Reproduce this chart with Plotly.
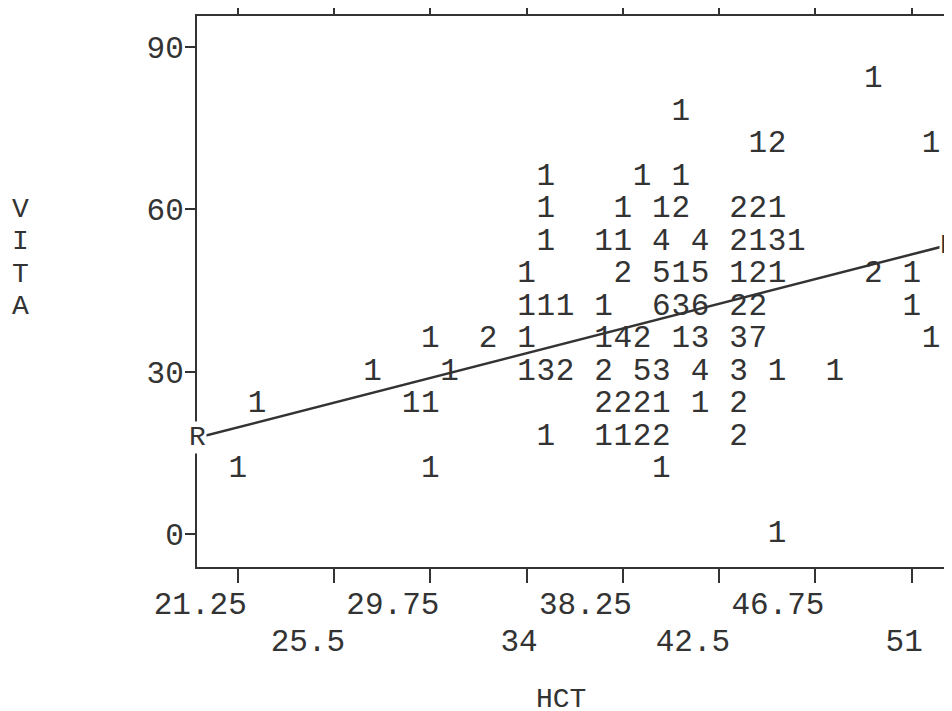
import plotly.graph_objects as go

# ---- data ----
# column index k -> HCT = 21.25 + 0.85*k ; rows are VITA values
rows_vita = [84, 78, 72, 66, 60, 54, 48, 42, 36, 30, 24, 18, 12, 0]
rows_cols = [
    [33],
    [23],
    [27, 28, 36],
    [16, 21, 23],
    [16, 20, 22, 23, 26, 27, 28],
    [16, 19, 20, 22, 24, 26, 27, 28, 29],
    [15, 20, 22, 23, 24, 26, 27, 28, 33, 35],
    [15, 16, 17, 19, 22, 23, 24, 26, 27, 35],
    [10, 13, 15, 19, 20, 21, 23, 24, 26, 27, 36],
    [7, 11, 15, 16, 17, 19, 21, 22, 24, 26, 28, 31],
    [1, 9, 10, 19, 20, 21, 22, 24, 26],
    [16, 19, 20, 21, 22, 26],
    [0, 10, 22],
    [28],
]
rows_counts = [
    [1],
    [1],
    [1, 2, 1],
    [1, 1, 1],
    [1, 1, 1, 2, 2, 2, 1],
    [1, 1, 1, 4, 4, 2, 1, 3, 1],
    [1, 2, 5, 1, 5, 1, 2, 1, 2, 1],
    [1, 1, 1, 1, 6, 3, 6, 2, 2, 1],
    [1, 2, 1, 1, 4, 2, 1, 3, 3, 7, 1],
    [1, 1, 1, 3, 2, 2, 5, 3, 4, 3, 1, 1],
    [1, 1, 1, 2, 2, 2, 1, 1, 2],
    [1, 1, 1, 2, 2, 2],
    [1, 1, 1],
    [1],
]
hct_start = 21.25
hct_step = 0.85

hct, vita, counts = [], [], []
for yv, cols, cnts in zip(rows_vita, rows_cols, rows_counts):
    for k, c in zip(cols, cnts):
        hct.append(hct_start + hct_step * k)
        vita.append(yv)
        counts.append(str(c))

# regression line end points (at plot edges)
fit_x = [19.45, 52.6]
fit_y = [17.8, 53.4]

x_upper_ticks = [21.25, 29.75, 38.25, 46.75]
x_lower_ticks = [25.5, 34, 42.5, 51]
y_ticks = [0, 30, 60, 90]

x_range = [19.45, 52.6]
y_range = [-6.05, 95.7]

INK = "#333333"
FONT = "Courier New, Nimbus Mono PS, Liberation Mono, monospace"
FS = 31

fig = go.Figure()
fig.add_trace(go.Scatter(x=fit_x, y=fit_y, mode="lines", xaxis="x2",
                         line=dict(color=INK, width=2.5), hoverinfo="skip",
                         showlegend=False))
fig.add_trace(go.Scatter(x=hct, y=vita, mode="text", text=counts,
                         textposition="middle center",
                         textfont=dict(family=FONT, size=FS, color=INK),
                         showlegend=False))

all_x = sorted(x_upper_ticks + x_lower_ticks)
# the page body has an 8px default margin: margins below compensate for it
fig.update_layout(
    width=952, height=711,
    margin=dict(l=189, r=12, t=8, b=152),
    paper_bgcolor="white", plot_bgcolor="white",
    font=dict(family=FONT, size=FS, color=INK),
    xaxis=dict(range=x_range, showline=True, mirror="ticks", linecolor=INK,
               linewidth=2, ticks="outside", ticklen=14, tickwidth=2,
               tickcolor=INK, tickvals=all_x,
               ticktext=[(f"{v:g}" if v in x_upper_ticks else "") for v in all_x],
               ticklabelposition="outside left", ticklabelshift=11,
               ticklabelstandoff=8, automargin=False,
               showgrid=False, zeroline=False, layer="below traces"),
    xaxis2=dict(range=x_range, overlaying="x", anchor="y", side="bottom",
                showline=False, ticks="", tickvals=x_lower_ticks,
                ticktext=[f"{v:g}" for v in x_lower_ticks],
                ticklabelposition="outside left", ticklabelshift=11,
                ticklabelstandoff=52, automargin=False,
                showgrid=False, zeroline=False),
    yaxis=dict(range=y_range, showline=True, mirror="ticks", linecolor=INK,
               linewidth=2, ticks="outside", ticklen=10, tickwidth=2,
               tickcolor=INK, tickvals=y_ticks, automargin=False,
               ticktext=[str(v) for v in y_ticks], ticklabelstandoff=-5,
               showgrid=False, zeroline=False, layer="below traces"),
)

# R markers at line ends
for xv, yv in zip(fit_x, fit_y):
    fig.add_annotation(x=xv, y=yv, xref="x", yref="y", text="R",
                       showarrow=False, bgcolor="white",
                       font=dict(family=FONT, size=FS - 3, color=INK),
                       borderpad=0)

# vertical axis title letters
for ch, yv in zip(["V", "I", "T", "A"], [60, 54, 48, 42]):
    fig.add_annotation(x=-0.235, y=yv, xref="paper", yref="y", text=ch,
                       xanchor="center", showarrow=False,
                       font=dict(family=FONT, size=FS - 3, color=INK))

fig.add_annotation(x=0.4847, y=-0.24, xref="paper", yref="paper", text="HCT",
                   xanchor="center", showarrow=False, yanchor="middle",
                   font=dict(family=FONT, size=FS - 3, color=INK))

fig.write_html("out.html")
